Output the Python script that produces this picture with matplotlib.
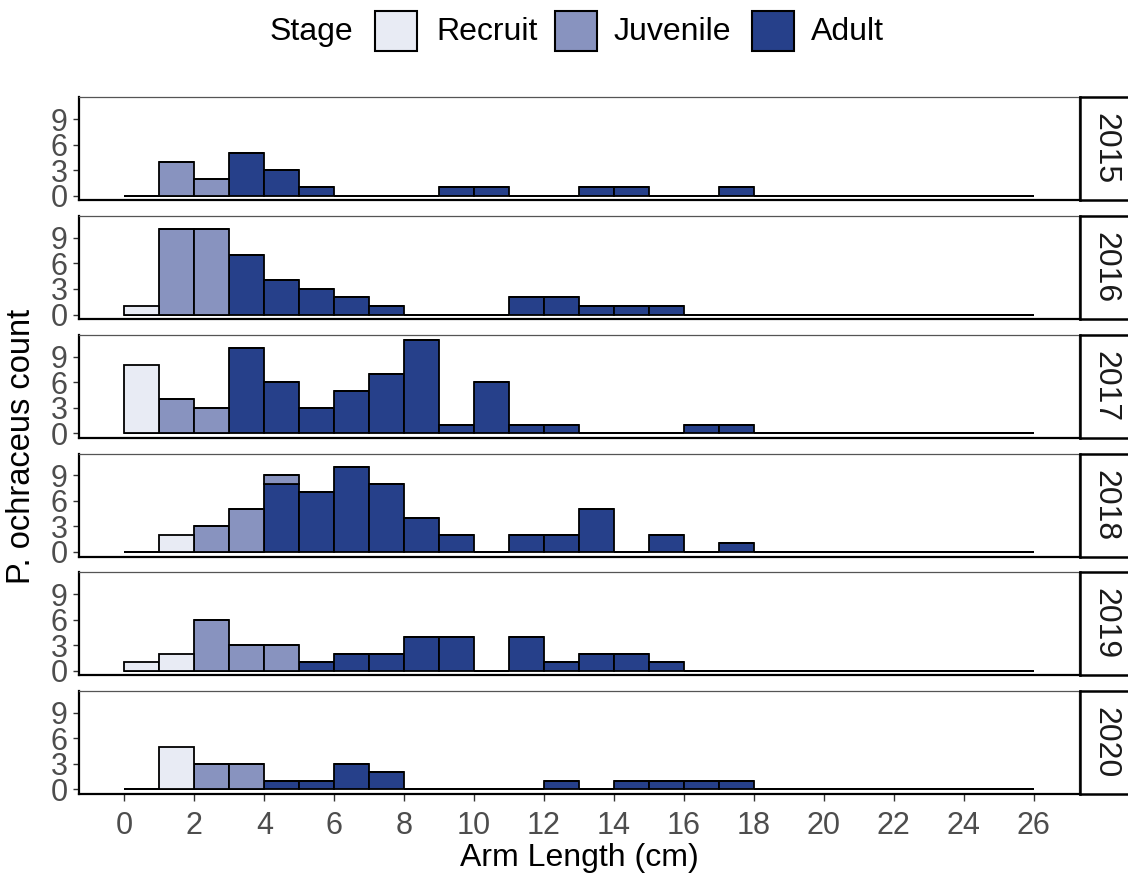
import numpy as np
import matplotlib
matplotlib.use("Agg")
import matplotlib.pyplot as plt
from matplotlib.patches import Rectangle

plt.rcParams['font.family'] = ['Liberation Sans', 'DejaVu Sans']

# ---------------- data ----------------
years = ["2015", "2016", "2017", "2018", "2019", "2020"]
stages = ["Recruit", "Juvenile", "Adult"]
stage_colors = ["#E8EBF4", "#8893BF", "#26408A"]
bin_edges = list(range(0, 27))  # 1 cm bins, 0..26

# counts per 1-cm bin (bins 0-1 ... 17-18); remaining bins up to 26 are zero
recruit_2015 = [0, 0, 0, 0, 0, 0, 0, 0, 0, 0, 0, 0, 0, 0, 0, 0, 0, 0]
juvenile_2015 = [0, 4, 2, 0, 0, 0, 0, 0, 0, 0, 0, 0, 0, 0, 0, 0, 0, 0]
adult_2015 = [0, 0, 0, 5, 3, 1, 0, 0, 0, 1, 1, 0, 0, 1, 1, 0, 0, 1]

recruit_2016 = [1, 0, 0, 0, 0, 0, 0, 0, 0, 0, 0, 0, 0, 0, 0, 0, 0, 0]
juvenile_2016 = [0, 10, 10, 0, 0, 0, 0, 0, 0, 0, 0, 0, 0, 0, 0, 0, 0, 0]
adult_2016 = [0, 0, 0, 7, 4, 3, 2, 1, 0, 0, 0, 2, 2, 1, 1, 1, 0, 0]

recruit_2017 = [8, 0, 0, 0, 0, 0, 0, 0, 0, 0, 0, 0, 0, 0, 0, 0, 0, 0]
juvenile_2017 = [0, 4, 3, 0, 0, 0, 0, 0, 0, 0, 0, 0, 0, 0, 0, 0, 0, 0]
adult_2017 = [0, 0, 0, 10, 6, 3, 5, 7, 11, 1, 6, 1, 1, 0, 0, 0, 1, 1]

recruit_2018 = [0, 2, 0, 0, 0, 0, 0, 0, 0, 0, 0, 0, 0, 0, 0, 0, 0, 0]
juvenile_2018 = [0, 0, 3, 5, 1, 0, 0, 0, 0, 0, 0, 0, 0, 0, 0, 0, 0, 0]
adult_2018 = [0, 0, 0, 0, 8, 7, 10, 8, 4, 2, 0, 2, 2, 5, 0, 2, 0, 1]

recruit_2019 = [1, 2, 0, 0, 0, 0, 0, 0, 0, 0, 0, 0, 0, 0, 0, 0, 0, 0]
juvenile_2019 = [0, 0, 6, 3, 3, 0, 0, 0, 0, 0, 0, 0, 0, 0, 0, 0, 0, 0]
adult_2019 = [0, 0, 0, 0, 0, 1, 2, 2, 4, 4, 0, 4, 1, 2, 2, 1, 0, 0]

recruit_2020 = [0, 5, 0, 0, 0, 0, 0, 0, 0, 0, 0, 0, 0, 0, 0, 0, 0, 0]
juvenile_2020 = [0, 0, 3, 3, 0, 0, 0, 0, 0, 0, 0, 0, 0, 0, 0, 0, 0, 0]
adult_2020 = [0, 0, 0, 0, 1, 1, 3, 2, 0, 0, 0, 0, 1, 0, 1, 1, 1, 1]

counts = {
    "2015": [recruit_2015, juvenile_2015, adult_2015],
    "2016": [recruit_2016, juvenile_2016, adult_2016],
    "2017": [recruit_2017, juvenile_2017, adult_2017],
    "2018": [recruit_2018, juvenile_2018, adult_2018],
    "2019": [recruit_2019, juvenile_2019, adult_2019],
    "2020": [recruit_2020, juvenile_2020, adult_2020],
}
y_ticks = [0, 3, 6, 9]
x_ticks = list(range(0, 27, 2))

# ---------------- layout ----------------
W, H = 1128, 880
fig = plt.figure(figsize=(W / 100, H / 100), dpi=100)

left_px, right_px = 79, 1079
top0, step, ph = 97.5, 118.7, 103
nbins = len(bin_edges) - 1
lefts = np.array(bin_edges[:-1], dtype=float)

grey_txt = "#4D4D4D"

for i, yr in enumerate(years):
    top = top0 + i * step
    ax = fig.add_axes([left_px / W, 1 - (top + ph) / H, (right_px - left_px) / W, ph / H])
    rec, juv, adu = counts[yr]
    def pad(a):
        return np.array(a + [0] * (nbins - len(a)), dtype=float)
    rec, juv, adu = pad(rec), pad(juv), pad(adu)
    bottom = np.zeros(nbins)
    # stacking order: Adult at bottom, then Juvenile, then Recruit on top
    for vals, col in [(adu, stage_colors[2]), (juv, stage_colors[1]), (rec, stage_colors[0])]:
        ax.bar(lefts, vals, width=1, align='edge', bottom=bottom, color=col,
               edgecolor='black', linewidth=1.3, zorder=2)
        bottom = bottom + vals
    ax.set_xlim(-1.3, 27.3)
    ax.set_ylim(-0.55, 11.55)
    ax.set_yticks(y_ticks)
    ax.set_yticklabels([str(t) for t in y_ticks], fontsize=22, color=grey_txt)
    ax.tick_params(axis='y', length=4, width=1, color="#333333", pad=4)
    for s in ['top', 'right']:
        ax.spines[s].set_color("#555555")
        ax.spines[s].set_linewidth(0.9)
    for s in ['left', 'bottom']:
        ax.spines[s].set_color("black")
        ax.spines[s].set_linewidth(1.6)
    if i == len(years) - 1:
        ax.set_xticks(x_ticks)
        ax.set_xticklabels([str(t) for t in x_ticks], fontsize=22, color=grey_txt)
        ax.tick_params(axis='x', length=5, width=1, color="#333333", pad=7)
    else:
        ax.set_xticks([])

    # strip on the right
    sax = fig.add_axes([1080 / W, 1 - (top + ph) / H, 50 / W, ph / H])
    sax.set_xticks([]); sax.set_yticks([])
    sax.set_facecolor('white')
    for s in sax.spines.values():
        s.set_color('black')
        s.set_linewidth(1.8)
    sax.text(0.5, 0.5, yr, rotation=-90, ha='center', va='center',
             fontsize=23, color="#1A1A1A", transform=sax.transAxes)

# axis labels
fig.text((left_px + right_px) / 2 / W, 1 - 858 / H, "Arm Length (cm)",
         ha='center', va='center', fontsize=23, color='black')
fig.text(22 / W, 1 - 446 / H, "P. ochraceus count", rotation=90,
         ha='center', va='center', fontsize=23.5, color='black')

# legend at top
fig.text(311 / W, 1 - 32 / H, "Stage", ha='center', va='center', fontsize=23, color='black')
box_x = [375, 555, 752]
text_x = [436, 614, 811]
for bx, tx, lab, col in zip(box_x, text_x, stages, stage_colors):
    fig.add_artist(Rectangle((bx / W, 1 - 51 / H), 42 / W, 40 / H, transform=fig.transFigure,
                             facecolor=col, edgecolor='black', linewidth=1.5))
    fig.text(tx / W, 1 - 32 / H, lab, ha='left', va='center', fontsize=23, color='black')

fig.savefig("out.png", dpi=100)
